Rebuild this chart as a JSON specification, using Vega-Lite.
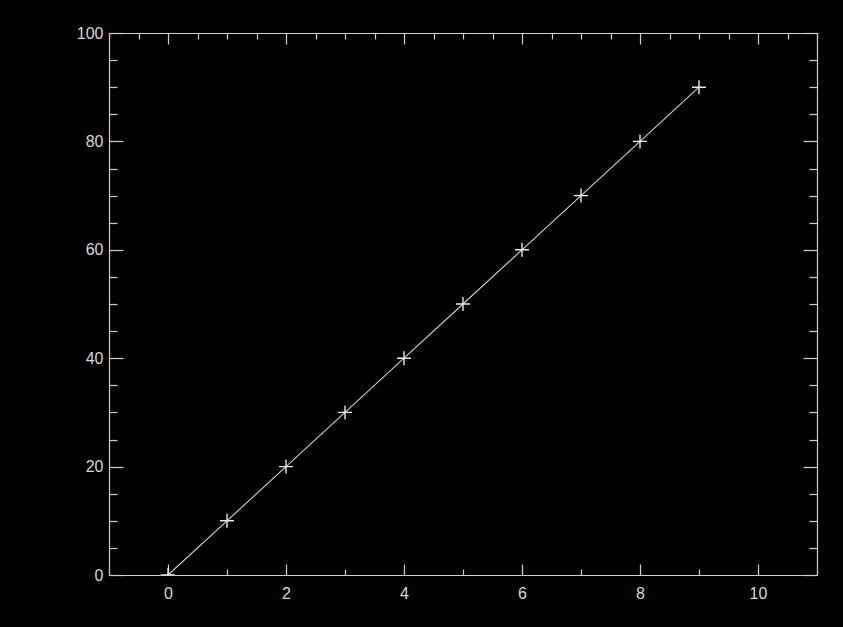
{
  "$schema": "https://vega.github.io/schema/vega-lite/v6.json",
  "width": 708,
  "height": 542,
  "autosize": {"type": "none"},
  "padding": {"left": 109, "top": 33, "right": 26, "bottom": 52},
  "background": "#000000",
  "config": {
    "view": {"stroke": null},
    "axis": {
      "domainColor": "#d0d0d0",
      "tickColor": "#d0d0d0",
      "labelColor": "#d8d8d8",
      "labelFont": "Liberation Sans",
      "labelFontSize": 16,
      "grid": false,
      "labelFlush": false,
      "labelOverlap": false,
      "domainWidth": 1.2,
      "tickWidth": 1.2,
      "title": null
    }
  },
  "data": {
    "values": [
      {"x": 0, "y": 0},
      {"x": 1, "y": 10},
      {"x": 2, "y": 20},
      {"x": 3, "y": 30},
      {"x": 4, "y": 40},
      {"x": 5, "y": 50},
      {"x": 6, "y": 60},
      {"x": 7, "y": 70},
      {"x": 8, "y": 80},
      {"x": 9, "y": 90}
    ]
  },
  "resolve": {"axis": {"x": "independent", "y": "independent"}},
  "layer": [
    {
      "mark": {"type": "line", "color": "#d0d0d0", "strokeWidth": 1.1},
      "encoding": {
        "x": {
          "field": "x", "type": "quantitative",
          "scale": {"domain": [-1, 11], "nice": false, "zero": false},
          "axis": {
            "orient": "bottom",
            "values": [-1, -0.5, 0, 0.5, 1, 1.5, 2, 2.5, 3, 3.5, 4, 4.5, 5, 5.5, 6, 6.5, 7, 7.5, 8, 8.5, 9, 9.5, 10, 10.5, 11],
            "format": "d",
            "tickSize": {"condition": {"test": "datum.value % 2 === 0", "value": -11}, "value": -6},
            "labelExpr": "datum.value % 2 === 0 ? datum.label : ''",
            "labelPadding": 21
          }
        },
        "y": {
          "field": "y", "type": "quantitative",
          "scale": {"domain": [0, 100], "nice": false},
          "axis": {
            "orient": "left",
            "values": [0, 5, 10, 15, 20, 25, 30, 35, 40, 45, 50, 55, 60, 65, 70, 75, 80, 85, 90, 95, 100],
            "format": "d",
            "tickSize": {"condition": {"test": "datum.value % 20 === 0", "value": -14}, "value": -8},
            "labelExpr": "datum.value % 20 === 0 ? datum.label : ''",
            "labelPadding": 20
          }
        }
      }
    },
    {
      "mark": {"type": "point", "shape": "M-1,0H1M0,-1V1", "filled": false, "color": "#ececec", "strokeWidth": 1.4, "size": 196, "opacity": 1, "clip": true},
      "encoding": {
        "x": {
          "field": "x", "type": "quantitative",
          "scale": {"domain": [-1, 11], "nice": false, "zero": false},
          "axis": {
            "orient": "top",
            "values": [-1, -0.5, 0, 0.5, 1, 1.5, 2, 2.5, 3, 3.5, 4, 4.5, 5, 5.5, 6, 6.5, 7, 7.5, 8, 8.5, 9, 9.5, 10, 10.5, 11],
            "tickSize": {"condition": {"test": "datum.value % 2 === 0", "value": -11}, "value": -6},
            "labels": false
          }
        },
        "y": {
          "field": "y", "type": "quantitative",
          "scale": {"domain": [0, 100], "nice": false},
          "axis": {
            "orient": "right",
            "values": [0, 5, 10, 15, 20, 25, 30, 35, 40, 45, 50, 55, 60, 65, 70, 75, 80, 85, 90, 95, 100],
            "tickSize": {"condition": {"test": "datum.value % 20 === 0", "value": -14}, "value": -8},
            "labels": false
          }
        }
      }
    }
  ]
}
